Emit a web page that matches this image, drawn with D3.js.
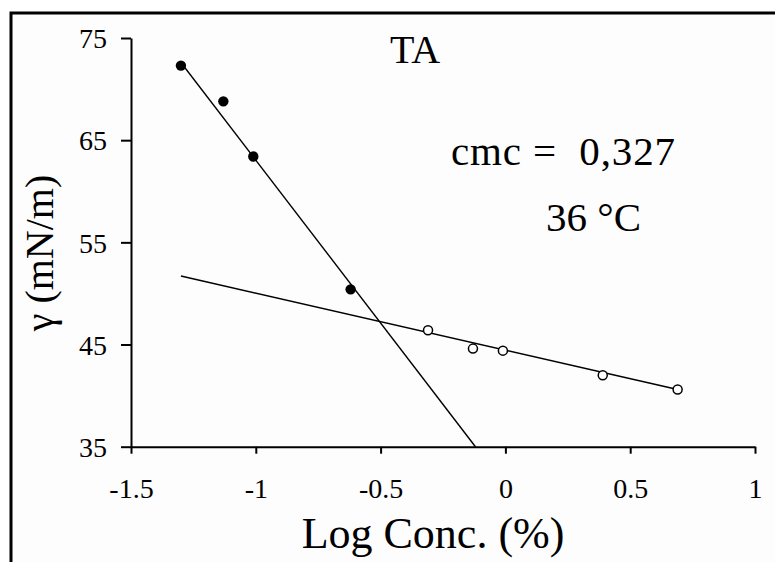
<!DOCTYPE html>
<html>
<head>
<meta charset="utf-8">
<script src="https://cdn.jsdelivr.net/npm/d3@7.9.0/dist/d3.min.js"></script>
<style>
  body { margin: 0; background: #fff; }
  svg text { font-family: "Liberation Serif", "Times New Roman", serif; fill: #000; }
</style>
</head>
<body>
<div id="chart"></div>
<script>
// below the cmc (filled dots)
const premicX = [-1.30, -1.13, -1.01, -0.62];
const premicY = [72.3, 68.8, 63.4, 50.4];
// above the cmc (open dots)
const postmicX = [-0.31, -0.13, -0.01, 0.39, 0.69];
const postmicY = [46.4, 44.6, 44.4, 42.0, 40.6];

// fitted lines, as [x, y] end points
const premicFit = [[-1.30, 72.6], [-0.12, 35]];
const postmicFit = [[-1.30, 51.7], [0.69, 40.6]];

const xTicks = [-1.5, -1, -0.5, 0, 0.5, 1];
const yTicks = [35, 45, 55, 65, 75];

const title = 'TA';
const cmcLabel = 'cmc =  0,327';
const tempLabel = '36 \u00B0C';
const xLabel = 'Log Conc. (%)';
const yLabel = '\u03B3 (mN/m)';

const width = 775;
const height = 562;

const svg = d3.select('#chart')
  .append('svg')
  .attr('width', width)
  .attr('height', height);

// frame (runs off the right and bottom of the picture)
svg.append('rect')
  .attr('x', 11).attr('y', 13)
  .attr('width', 800).attr('height', 600)
  .attr('fill', '#fdfdfd')
  .attr('stroke', '#000')
  .attr('stroke-width', 3);

const x = d3.scaleLinear().domain([-1.5, 1]).range([131, 755]);
const y = d3.scaleLinear().domain([35, 75]).range([446.7, 38]);

// y axis
const yAxis = svg.append('g')
  .attr('transform', `translate(${x(-1.5)},0)`)
  .call(d3.axisLeft(y).tickValues(yTicks).tickSize(10).tickSizeOuter(0).tickPadding(14));
yAxis.selectAll('text')
  .style('font-size', '28px')
  .attr('dy', '0.35em');

// x axis
const xAxis = svg.append('g')
  .attr('transform', `translate(0,${y(35)})`)
  .call(d3.axisBottom(x).tickValues(xTicks).tickSize(7).tickSizeOuter(0)
    .tickFormat(d => String(d)));
xAxis.selectAll('text')
  .style('font-size', '28px')
  .attr('y', 51)
  .attr('dy', null);

svg.selectAll('.domain').attr('stroke', '#000').attr('stroke-width', 2);
svg.selectAll('.tick line').attr('stroke', '#000').attr('stroke-width', 2);

// fitted lines
const line = d3.line().x(d => x(d[0])).y(d => y(d[1]));
svg.append('path')
  .datum(premicFit)
  .attr('d', line)
  .attr('fill', 'none')
  .attr('stroke', '#000')
  .attr('stroke-width', 1.4);
svg.append('path')
  .datum(postmicFit)
  .attr('d', line)
  .attr('fill', 'none')
  .attr('stroke', '#000')
  .attr('stroke-width', 1.6);

// dots
svg.append('g')
  .selectAll('circle')
  .data(d3.zip(premicX, premicY))
  .join('circle')
  .attr('cx', d => x(d[0]))
  .attr('cy', d => y(d[1]))
  .attr('r', 5.2)
  .attr('fill', '#000');

svg.append('g')
  .selectAll('circle')
  .data(d3.zip(postmicX, postmicY))
  .join('circle')
  .attr('cx', d => x(d[0]))
  .attr('cy', d => y(d[1]))
  .attr('r', 4.5)
  .attr('fill', '#fff')
  .attr('stroke', '#000')
  .attr('stroke-width', 1.5);

// annotations
svg.append('text')
  .attr('x', 390).attr('y', 63)
  .style('font-size', '40px')
  .text(title);

svg.append('text')
  .attr('x', 451).attr('y', 165)
  .attr('textLength', 224)
  .attr('lengthAdjust', 'spacing')
  .style('font-size', '41px')
  .style('white-space', 'pre')
  .text(cmcLabel);

svg.append('text')
  .attr('x', 546).attr('y', 231)
  .style('font-size', '41px')
  .text(tempLabel);

// axis titles
svg.append('text')
  .attr('x', 433).attr('y', 548)
  .attr('text-anchor', 'middle')
  .style('font-size', '44px')
  .text(xLabel);

svg.append('text')
  .attr('transform', 'translate(53,253) rotate(-90)')
  .attr('text-anchor', 'middle')
  .style('font-size', '40px')
  .text(yLabel);
</script>
</body>
</html>
